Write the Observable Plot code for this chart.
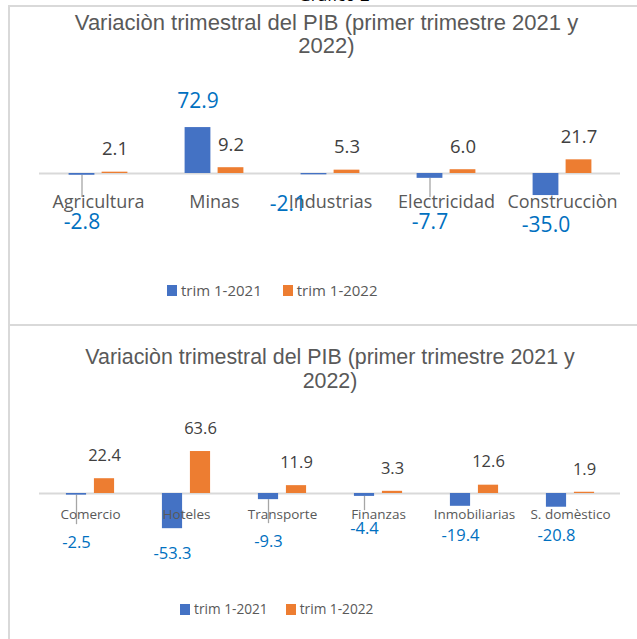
<!DOCTYPE html>
<html>
<head>
<meta charset="utf-8">
<script src="https://cdn.jsdelivr.net/npm/d3@7"></script>
<script src="https://cdn.jsdelivr.net/npm/@observablehq/plot@0.6"></script>
<style>
  html, body { margin: 0; padding: 0; background: #fff; }
  #page { position: relative; width: 637px; height: 639px; overflow: hidden; background: #fff; }
  .panel { position: absolute; left: 8px; width: 700px; border: 2px solid #D9D9D9; box-sizing: border-box; }
  .title { position: absolute; text-align: center; color: #595959; font-family: "Liberation Sans", Arial, sans-serif; white-space: nowrap; }
  .legend { position: absolute; display: flex; align-items: center; color: #595959; font-family: "Open Sans", sans-serif; white-space: nowrap; }
  .legend .sw { display: inline-block; width: 10px; height: 11px; margin-right: 4px; }
  .plot { position: absolute; left: 0; }
  #sup { position: absolute; top: -17px; left: 0; width: 668px; text-align: center; font-family: "Open Sans", sans-serif; font-size: 17px; color: #000; }
</style>
</head>
<body>
<div id="page">
  <div class="panel" style="top:5px;height:321px;"></div>
  <div class="panel" style="top:324px;height:330px;"></div>
  <div id="sup">Gráfico 2</div>
  <div id="t1" class="title" style="left:0;width:653px;top:11px;font-size:22px;line-height:23px;"></div>
  <div id="t2" class="title" style="left:0;width:660px;top:345px;font-size:21.4px;line-height:24px;"></div>
  <div id="p1" class="plot" style="top:60px;"></div>
  <div id="p2" class="plot" style="top:395px;"></div>
  <div id="l1" class="legend" style="left:167px;top:279px;font-size:15px;line-height:22px;"></div>
  <div id="l2" class="legend" style="left:180px;top:599px;font-size:13.7px;line-height:20px;"></div>
</div>
<script>
// ---------- data ----------
const titleLines = ["Variaciòn trimestral del PIB (primer trimestre 2021 y", "2022)"];
const seriesNames = ["trim 1-2021", "trim 1-2022"];

const categories1 = ["Agricultura", "Minas", "Industrias", "Electricidad", "Construcciòn"];
const values1_2021 = [-2.8, 72.9, -2.1, -7.7, -35.0];
const values1_2022 = [2.1, 9.2, 5.3, 6.0, 21.7];

const categories2 = ["Comercio", "Hoteles", "Transporte", "Finanzas", "Inmobiliarias", "S. domèstico"];
const values2_2021 = [-2.5, -53.3, -9.3, -4.4, -19.4, -20.8];
const values2_2022 = [22.4, 63.6, 11.9, 3.3, 12.6, 1.9];

// ---------- styling ----------
const BLUE = "#4472C4", ORANGE = "#ED7D31";
const BLUE_TXT = "#0070C0", GRAY_TXT = "#404040", CAT_TXT = "#595959";
const FONT = "'Open Sans', sans-serif";

document.getElementById("t1").innerHTML = titleLines.join("<br>");
document.getElementById("t2").innerHTML = titleLines.join("<br>");

function legend(id, gap) {
  const el = document.getElementById(id);
  [BLUE, ORANGE].forEach((c, i) => {
    const item = document.createElement("span");
    item.style.display = "inline-flex";
    item.style.alignItems = "center";
    if (i > 0) item.style.marginLeft = gap + "px";
    item.innerHTML = `<span class="sw" style="background:${c}"></span>${seriesNames[i]}`;
    el.appendChild(item);
  });
}
legend("l1", 21);
legend("l2", 18);

function chart(cfg) {
  const {cats, v21, v22, zero, k, barW, gap, catDy, catSize, blueSize, graySize,
         negFloor, negDy, leaderGap, nudgeY, nudgeX} = cfg;
  const d21 = cats.map((c, i) => ({cat: c, v: v21[i]}));
  const d22 = cats.map((c, i) => ({cat: c, v: v22[i]}));
  const W = 637, H = 180, mL = 39, mR = 17;
  const band = (W - mL - mR) / cats.length;
  const inset = (band - barW) / 2;
  const off = (barW + gap) / 2;
  const yDom = [-60, 80];
  const yRange = [zero - yDom[0] * k, zero - yDom[1] * k];
  // label anchor for negative 2021 values (in data units)
  const labY = d => Math.min(d.v, negFloor) - ((nudgeY[d.cat] || 0) / k);
  const neg = d21.filter(d => d.v < 0);
  const pos = d21.filter(d => d.v >= 0);
  const plain = neg.filter(d => !(d.cat in nudgeX));
  const moved = neg.filter(d => d.cat in nudgeX);
  const leaders = plain.filter(d => d.v > -10);
  return Plot.plot({
    width: W, height: H,
    marginLeft: mL, marginRight: mR, marginTop: 0, marginBottom: 0,
    x: {domain: cats, padding: 0, axis: null},
    y: {domain: yDom, range: yRange, axis: null},
    style: {fontFamily: FONT, background: "transparent"},
    marks: [
      Plot.ruleY([0], {stroke: "#D9D9D9", strokeWidth: 2}),
      Plot.ruleX(leaders, {x: "cat", dx: -off, y1: "v",
        y2: d => labY(d) - (negDy - leaderGap) / k,
        stroke: "#A6A6A6", strokeWidth: 1.3}),
      Plot.barY(d21, {x: "cat", y: "v", fill: BLUE, insetLeft: inset, insetRight: inset, dx: -off}),
      Plot.barY(d22, {x: "cat", y: "v", fill: ORANGE, insetLeft: inset, insetRight: inset, dx: off}),
      Plot.text(cats, {x: d => d, y: 0, dy: catDy, text: d => d, fill: CAT_TXT, fontSize: catSize}),
      Plot.text(d22, {x: "cat", y: "v", dx: off, dy: -23, text: d => d.v.toFixed(1), fill: GRAY_TXT, fontSize: graySize}),
      Plot.text(pos, {x: "cat", y: "v", dx: -off, dy: -26, text: d => d.v.toFixed(1), fill: BLUE_TXT, fontSize: blueSize}),
      Plot.text(plain, {x: "cat", y: labY, dx: -off, dy: negDy, text: d => d.v.toFixed(1), fill: BLUE_TXT, fontSize: blueSize}),
      ...moved.map(d => Plot.text([d], {x: "cat", y: labY, dx: -off + nudgeX[d.cat], dy: negDy, text: e => e.v.toFixed(1), fill: BLUE_TXT, fontSize: blueSize}))
    ]
  });
}

const c1 = chart({
  cats: categories1, v21: values1_2021, v22: values1_2022,
  zero: 113, k: 0.63, barW: 26, gap: 7, catDy: 29, catSize: 18, blueSize: 21, graySize: 18.5,
  negFloor: -30, negDy: 30, leaderGap: 25,
  nudgeY: {Industrias: -18}, nudgeX: {Industrias: -26}
});
document.getElementById("p1").appendChild(c1);

const c2 = chart({
  cats: categories2, v21: values2_2021, v22: values2_2022,
  zero: 98, k: 0.66, barW: 21, gap: 7, catDy: 21, catSize: 13.5, blueSize: 16.5, graySize: 16.5,
  negFloor: -26, negDy: 25, leaderGap: 18,
  nudgeY: {Comercio: 7, Transporte: 6, Finanzas: -7}, nudgeX: {}
});
document.getElementById("p2").appendChild(c2);
</script>
</body>
</html>
